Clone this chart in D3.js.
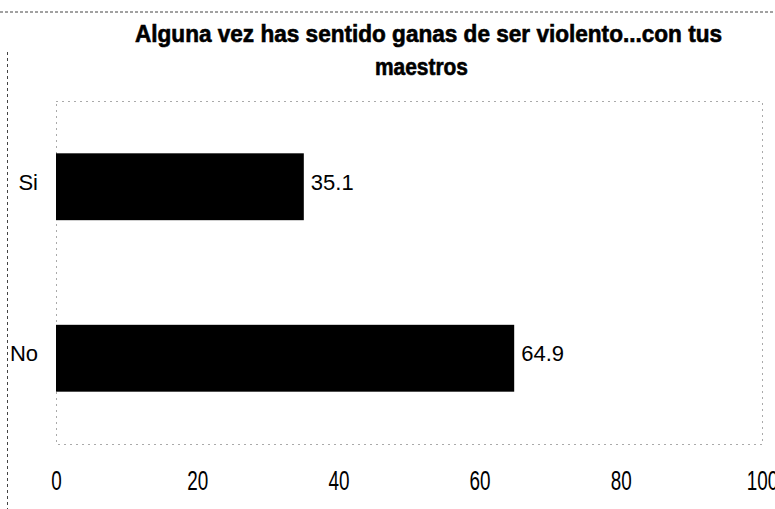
<!DOCTYPE html>
<html>
<head>
<meta charset="utf-8">
<script src="https://cdn.jsdelivr.net/npm/d3@7"></script>
<style>
  body { margin: 0; background: #fff; }
  svg { display: block; }
  text { font-family: "Liberation Sans", Arial, sans-serif; fill: #000; }
</style>
</head>
<body>
<div id="chart"></div>
<script>
"use strict"

// data
var categories = ["Si", "No"];
var values = [35.1, 64.9];
var xTicks = [0, 20, 40, 60, 80, 100];
var titleLines = ["Alguna vez has sentido ganas de ser violento...con tus", "maestros"];

var width = 775,
    height = 509,
    plot = {left: 56, right: 762, top: 101, bottom: 444};

var svg = d3.select("#chart").append("svg")
    .attr("width", width)
    .attr("height", height);

// outer frame, only top and left are visible in the scan
svg.append("line")
    .attr("x1", 0).attr("x2", width).attr("y1", 12).attr("y2", 12)
    .style("stroke", "#444").style("stroke-width", 1).style("stroke-dasharray", "3,2");
svg.append("line")
    .attr("x1", 7.5).attr("x2", 7.5).attr("y1", 52).attr("y2", height)
    .style("stroke", "#444").style("stroke-width", 1).style("stroke-dasharray", "3,3");

// title (heavier than plain bold in the scan)
svg.append("text")
    .attr("x", 135).attr("y", 42)
    .attr("textLength", 587).attr("lengthAdjust", "spacingAndGlyphs")
    .style("font-weight", "bold").style("font-size", "23px")
    .style("stroke", "#000").style("stroke-width", 0.6)
    .text(titleLines[0]);
svg.append("text")
    .attr("x", 375).attr("y", 75)
    .attr("textLength", 93).attr("lengthAdjust", "spacingAndGlyphs")
    .style("font-weight", "bold").style("font-size", "23px")
    .style("stroke", "#000").style("stroke-width", 0.6)
    .text(titleLines[1]);

var x = d3.scaleLinear().domain([0, 100]).range([plot.left, plot.right]);
var y = d3.scaleBand().domain(categories)
    .range([plot.top, plot.bottom])
    .paddingInner(0.61).paddingOuter(0.305);

// plot area border (dotted)
svg.append("rect")
    .attr("x", plot.left + 0.5).attr("y", plot.top + 0.5)
    .attr("width", plot.right - plot.left).attr("height", plot.bottom - plot.top)
    .style("fill", "none").style("stroke", "#555").style("stroke-width", 1)
    .style("stroke-dasharray", "1,5");

// bars
svg.selectAll(".bar")
    .data(values)
    .enter().append("rect")
    .attr("class", "bar")
    .attr("x", x(0))
    .attr("y", function (d, i) { return y(categories[i]); })
    .attr("width", function (d) { return x(d) - x(0); })
    .attr("height", y.bandwidth())
    .style("fill", "#000");

// value labels
svg.selectAll(".val")
    .data(values)
    .enter().append("text")
    .attr("class", "val")
    .attr("x", function (d) { return x(d) + 7; })
    .attr("y", function (d, i) { return y(categories[i]) + y.bandwidth() / 2 + 3; })
    .style("font-size", "22px")
    .text(function (d) { return d.toFixed(1); });

// category labels
svg.selectAll(".cat")
    .data(categories)
    .enter().append("text")
    .attr("class", "cat")
    .attr("x", 38)
    .attr("y", function (d) { return y(d) + y.bandwidth() / 2 + 3; })
    .attr("text-anchor", "end")
    .style("font-size", "22px")
    .text(function (d) { return d; });

// x axis, labels only (condensed like the scan)
var axis = svg.append("g")
    .attr("transform", "translate(0," + 490 + ")")
    .call(d3.axisBottom(x).tickValues(xTicks).tickSize(0).tickPadding(0));
axis.select(".domain").remove();
axis.selectAll("text")
    .attr("dy", 0)
    .attr("transform", "scale(0.7,1)")
    .style("font-size", "27px")
    .style("font-family", "'Liberation Sans', Arial, sans-serif")
    .style("fill", "#000");
</script>
</body>
</html>
